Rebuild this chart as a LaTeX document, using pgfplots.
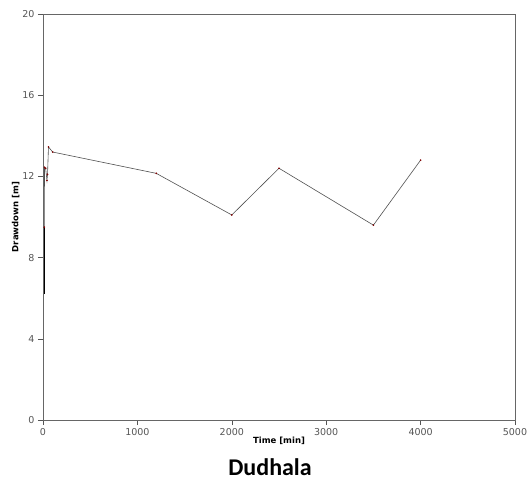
\documentclass[border=0pt]{standalone}
\usepackage{pgfplots}
\pgfplotsset{compat=1.18}
\usepackage{fontspec}
\setmainfont{DejaVu Sans}
\newfontfamily\titlefont{Carlito}
\definecolor{tickgray}{HTML}{555555}
\definecolor{linegray}{HTML}{505050}
\begin{document}
\begin{tikzpicture}[x=1pt,y=1pt]
\path[use as bounding box] (-43pt,-62pt) rectangle (489pt,420pt);
\begin{axis}[
  at={(0,0)}, anchor=south west,
  width=472pt, height=406pt, scale only axis,
  xmin=0, xmax=5000, ymin=0, ymax=20,
  xtick={0,1000,...,5000}, ytick={0,4,...,20},
  tick align=outside, xtick pos=bottom, ytick pos=left,
  major tick length=5pt,
  tick style={tickgray, line width=0.6pt},
  axis line style={gray!80!black, line width=0.8pt},
  ticklabel style={font=\fontsize{9.5}{11}\selectfont, text=tickgray},
  /pgf/number format/assume math mode=true,
  /pgf/number format/1000 sep={},
  xlabel={\textbf{Time [min]}},
  ylabel={\textbf{Drawdown [m]}},
  label style={font=\fontsize{8.5}{10}\selectfont},
  xlabel style={yshift=6pt},
  ylabel style={yshift=-4pt},
  clip=false,
]
\addplot[black, line width=0.9pt, mark=none] coordinates {
  (14,6.2) (14,9.5)
};
\addplot[linegray, line width=0.6pt, mark=*, mark size=0.5pt,
  mark options={fill=red!50!black, draw=red!50!black}] coordinates {
  (14,9.5) (16,12.45) (28,12.4) (42,11.8) (48,12.1) (58,13.45)
  (103,13.2) (1200,12.15) (2000,10.1) (2500,12.4) (3500,9.6) (4000,12.8)
};
\node[font=\titlefont\fontsize{24}{28}\selectfont\bfseries]
  at (rel axis cs:0.481,-0.116) {Dudhala};
\end{axis}
\end{tikzpicture}
\end{document}
